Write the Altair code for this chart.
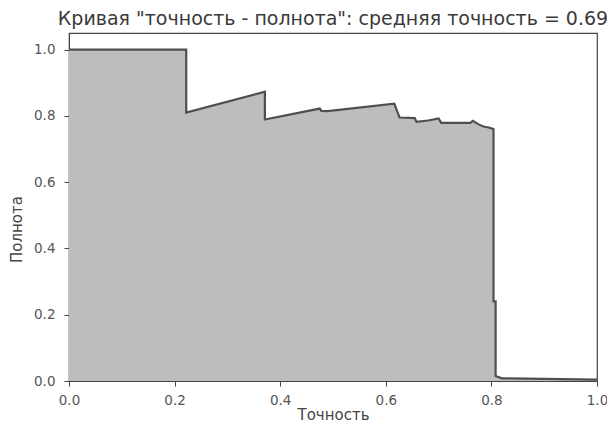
import altair as alt
import pandas as pd

recall_x = [0.0, 0.222, 0.222, 0.371, 0.371, 0.475, 0.478, 0.49, 0.616, 0.626,
            0.655, 0.658, 0.68, 0.70, 0.705, 0.76, 0.765, 0.775, 0.785, 0.795,
            0.804, 0.804, 0.808, 0.808, 0.82, 1.0]
precision_y = [1.0, 1.0, 0.81, 0.873, 0.789, 0.822, 0.815, 0.814, 0.837, 0.795,
               0.793, 0.782, 0.786, 0.792, 0.779, 0.779, 0.785, 0.775, 0.768, 0.765,
               0.760, 0.24, 0.24, 0.015, 0.008, 0.004]

df = pd.DataFrame({"x": recall_x, "y": precision_y, "i": list(range(len(recall_x)))})

FONT = "DejaVu Sans"
x_enc = alt.X("x:Q", scale=alt.Scale(domain=[0, 1.0], nice=False, zero=False),
              axis=alt.Axis(title="Точность", values=[0, 0.2, 0.4, 0.6, 0.8, 1.0],
                            format=".1f", grid=False, tickSize=5, labelPadding=7,
                            titlePadding=1, domainColor="#444", tickColor="#444",
                            labelColor="#555", titleColor="#444",
                            labelFontSize=13.5, titleFontSize=15, labelFont=FONT,
                            titleFont=FONT, titleFontWeight="normal",
                            labelFlush=False))
y_enc = alt.Y("y:Q", stack=None, scale=alt.Scale(domain=[0, 1.05], nice=False, zero=False),
              axis=alt.Axis(title="Полнота", values=[0, 0.2, 0.4, 0.6, 0.8, 1.0],
                            format=".1f", grid=False, tickSize=5, labelPadding=9,
                            titlePadding=9, titleY=196, domainColor="#444", tickColor="#444",
                            labelColor="#555", titleColor="#444",
                            labelFontSize=13.5, titleFontSize=15, labelFont=FONT,
                            titleFont=FONT, titleFontWeight="normal",
                            labelFlush=False))

area = alt.Chart(df).mark_area(fill="#bdbdbd", fillOpacity=1, interpolate="linear").encode(
    x=x_enc, y=y_enc)
line = alt.Chart(df).mark_line(color="#4f4f4f", strokeWidth=2.2, interpolate="linear").encode(
    x=alt.X("x:Q"), y=alt.Y("y:Q", stack=None), order="i:Q")

chart = (area + line).properties(
    width=528, height=348,
    title=alt.TitleParams('Кривая "точность - полнота": средняя точность = 0.69',
                          font=FONT, fontSize=19, fontWeight="normal", color="#3a3a3a",
                          anchor="middle", offset=4),
    autosize=alt.AutoSizeParams(type="none"),
    padding={"left": 61, "top": 25, "right": 10, "bottom": 42},
).configure_view(stroke="#444", strokeWidth=1.2)

chart.save("out.html", embed_options={"renderer": "svg", "actions": False})
